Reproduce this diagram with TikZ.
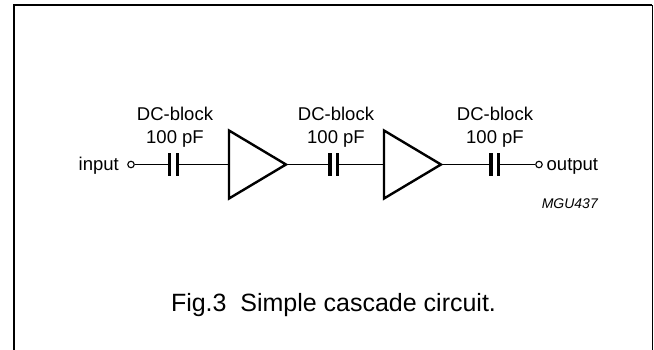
\documentclass[tikz,border=0pt]{standalone}
\usepackage{fontspec}
\setmainfont{Liberation Sans}
\begin{document}
\begin{tikzpicture}[x=1pt,y=-1pt,
  wire/.style={line width=1.3pt},
  plate/.style={line width=3.2pt},
  amp/.style={line width=2.4pt, line join=miter},
  term/.style={circle, draw, line width=1.1pt, inner sep=0pt, minimum size=6.5pt, fill=white},
  lbl/.style={font=\fontsize{18.5}{20}\selectfont, anchor=base, inner sep=0pt},
  tag/.style={font=\fontsize{14}{16}\selectfont\itshape, anchor=base east, inner sep=0pt},
  captiontext/.style={font=\fontsize{25}{28}\selectfont, anchor=base, inner sep=0pt}]
\useasboundingbox (0,0) rectangle (654,349);
% frame
\draw[line width=2pt] (14.3,352) -- (14.3,5.3) -- (652,5.3);
\draw[line width=1pt] (652,5.3) -- (652,352);
% terminals
\node[term] (in) at (131,164.5) {};
\node[term] (out) at (539,164.5) {};
\node[lbl, anchor=base east] (inlbl) at (119,170.5) {input};
\node[lbl, anchor=base west] (outlbl) at (546.5,170.5) {output};
% capacitor plates
\foreach \n/\x in {1/169.5, 2/330, 3/491}{
  \coordinate (c\n a) at (\x,164.5);
  \coordinate (c\n b) at (\x+7.8,164.5);
  \draw[plate] (\x,153) -- (\x,176);
  \draw[plate] (\x+7.8,153) -- (\x+7.8,176);
}
% amplifiers
\foreach \n/\x in {1/229, 2/384}{
  \coordinate (a\n in) at (\x,164.5);
  \coordinate (a\n out) at (\x+57,164.5);
  \draw[amp] (\x,130.5) -- (\x+57,164.5) -- (\x,198.5) -- cycle;
}
% wires
\draw[wire] (in) -- (c1a);
\draw[wire] (c1b) -- (a1in);
\draw[wire] (a1out) -- (c2a);
\draw[wire] (c2b) -- (a2in);
\draw[wire] (a2out) -- (c3a);
\draw[wire] (c3b) -- (out);
% labels
\foreach \n/\x in {1/175, 2/336, 3/495}{
  \node[lbl] (dc\n) at (\x,120.3) {DC-block};
  \node[lbl] (pf\n) at (\x,143) {100 pF};
}
\node[tag] (mgu) at (598,208) {MGU437};
\node[captiontext] (caption) at (333.5,311) {Fig.3\hspace{0.55em}Simple cascade circuit.};
\end{tikzpicture}
\end{document}
